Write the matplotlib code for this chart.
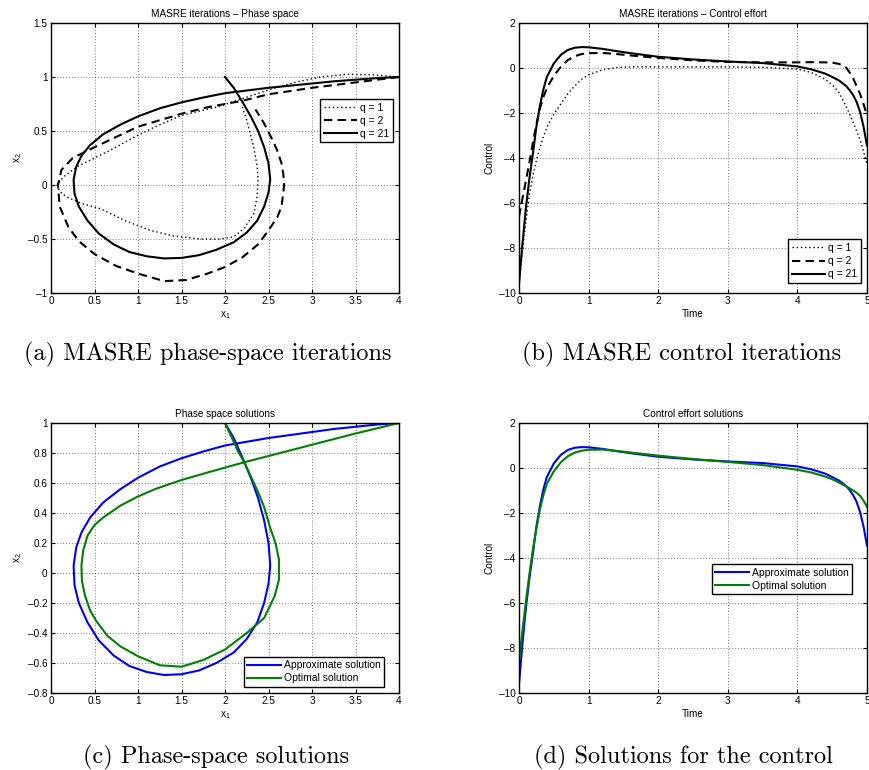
import matplotlib
matplotlib.use("Agg")
import matplotlib.pyplot as plt
from matplotlib.ticker import FixedLocator, FixedFormatter

plt.rcParams["font.family"] = ["Liberation Sans", "DejaVu Sans"]
plt.rcParams["mathtext.fontset"] = "custom"
plt.rcParams["mathtext.rm"] = "Liberation Sans"
plt.rcParams["mathtext.it"] = "Liberation Sans"
plt.rcParams["mathtext.default"] = "regular"

# ---- phase space data (x1, x2) ----
# q = 1 iteration
x1_q1 = [4.0, 3.7, 3.4, 3.1, 2.8, 2.5, 2.2, 1.9, 1.5, 1.2, 0.95, 0.7, 0.5, 0.3, 0.15, 0.07,
         0.1, 0.18, 0.35, 0.57, 0.85, 1.14, 1.4, 1.71, 1.95, 2.1, 2.22, 2.33, 2.37, 2.38,
         2.37, 2.33, 2.25, 2.2]
x2_q1 = [1.0, 1.02, 1.025, 1.0, 0.95, 0.88, 0.8, 0.72, 0.645, 0.54, 0.44, 0.33, 0.25, 0.17,
         0.08, 0.0, -0.06, -0.11, -0.17, -0.22, -0.33, -0.42, -0.47, -0.5, -0.5, -0.48,
         -0.4, -0.27, -0.1, 0.05, 0.17, 0.35, 0.6, 0.72]
# q = 2 iteration
x1_q2 = [4.0, 3.5, 3.0, 2.5, 2.2, 1.8, 1.5, 1.0, 0.5, 0.25, 0.12, 0.08, 0.1, 0.2, 0.32,
         0.5, 0.75, 1.0, 1.3, 1.55, 1.8, 2.0, 2.2, 2.38, 2.5, 2.6, 2.65, 2.68, 2.67, 2.65,
         2.6, 2.55, 2.45, 2.35]
x2_q2 = [1.0, 0.95, 0.9, 0.84, 0.78, 0.72, 0.66, 0.54, 0.35, 0.25, 0.14, 0.0, -0.2, -0.39,
         -0.52, -0.64, -0.75, -0.82, -0.89, -0.88, -0.82, -0.76, -0.67, -0.55, -0.42, -0.3,
         -0.2, 0.0, 0.1, 0.2, 0.32, 0.41, 0.57, 0.7]
# q = 21 iteration (approximate solution)
x1_q21 = [4.0, 3.75, 3.5, 3.25, 3.0, 2.75, 2.5, 2.25, 2.0, 1.75, 1.5, 1.25, 1.0, 0.8, 0.6,
          0.45, 0.35, 0.29, 0.26, 0.27, 0.32, 0.42, 0.55, 0.72, 0.9, 1.1, 1.3, 1.5, 1.7,
          1.9, 2.1, 2.25, 2.37, 2.45, 2.5, 2.52, 2.5, 2.45, 2.38, 2.3, 2.2, 2.1, 2.0]
x2_q21 = [1.0, 0.99, 0.975, 0.96, 0.94, 0.92, 0.9, 0.875, 0.85, 0.81, 0.765, 0.71, 0.635,
          0.56, 0.47, 0.37, 0.27, 0.17, 0.05, -0.08, -0.2, -0.33, -0.45, -0.55, -0.62,
          -0.66, -0.68, -0.675, -0.65, -0.6, -0.53, -0.44, -0.33, -0.2, -0.07, 0.05, 0.2,
          0.35, 0.5, 0.63, 0.77, 0.9, 1.0]
# optimal solution
x1_opt = [4.0, 3.5, 3.0, 2.5, 2.2, 1.8, 1.5, 1.2, 1.0, 0.8, 0.6, 0.5, 0.42, 0.37, 0.35,
          0.355, 0.39, 0.45, 0.52, 0.65, 0.8, 1.0, 1.25, 1.5, 1.75, 2.0, 2.25, 2.45, 2.57,
          2.62, 2.62, 2.58, 2.52, 2.45, 2.38, 2.3, 2.22, 2.15, 2.08, 2.0]
x2_opt = [1.0, 0.93, 0.855, 0.78, 0.735, 0.67, 0.62, 0.56, 0.51, 0.45, 0.37, 0.32, 0.25,
          0.15, 0.05, -0.05, -0.15, -0.25, -0.32, -0.42, -0.49, -0.555, -0.615, -0.625,
          -0.58, -0.51, -0.4, -0.3, -0.155, -0.045, 0.09, 0.2, 0.3, 0.44, 0.54, 0.64, 0.74,
          0.81, 0.9, 1.0]

# ---- control data ----
t = [0.0, 0.05, 0.1, 0.15, 0.2, 0.25, 0.3, 0.35, 0.4, 0.5, 0.6, 0.7, 0.8, 0.9, 1.0, 1.2,
     1.4, 1.6, 1.8, 2.0, 2.5, 3.0, 3.5, 4.0, 4.2, 4.4, 4.5, 4.6, 4.7, 4.75, 4.8, 4.85, 4.9,
     4.95, 5.0]
u_q1 = [-9.5, -8.1, -6.8, -5.6, -4.8, -4.1, -3.55, -3.05, -2.65, -2.05, -1.6, -1.15, -0.8,
        -0.5, -0.3, -0.08, 0.02, 0.05, 0.05, 0.05, 0.05, 0.05, 0.03, -0.05, -0.2, -0.5,
        -0.75, -1.1, -1.7, -2.05, -2.4, -2.8, -3.2, -3.7, -4.3]
u_q2 = [-6.6, -5.8, -5.0, -4.2, -3.3, -2.5, -1.8, -1.3, -0.9, -0.35, 0.05, 0.35, 0.52, 0.62,
        0.66, 0.67, 0.62, 0.56, 0.5, 0.45, 0.34, 0.27, 0.25, 0.25, 0.26, 0.25, 0.24, 0.18,
        0.02, -0.2, -0.45, -0.8, -1.15, -1.6, -2.1]
u_q21 = [-9.6, -7.8, -6.2, -4.9, -3.8, -2.6, -1.7, -0.95, -0.4, 0.2, 0.58, 0.8, 0.9, 0.93,
         0.92, 0.85, 0.75, 0.66, 0.58, 0.5, 0.38, 0.29, 0.22, 0.07, -0.06, -0.25, -0.4,
         -0.56, -0.8, -0.98, -1.2, -1.5, -1.95, -2.6, -3.45]
u_opt = [-8.6, -7.2, -5.9, -4.7, -3.6, -2.7, -1.85, -1.2, -0.7, -0.15, 0.25, 0.52, 0.68,
         0.77, 0.81, 0.82, 0.76, 0.69, 0.62, 0.55, 0.4, 0.27, 0.13, -0.08, -0.2, -0.38,
         -0.5, -0.65, -0.82, -0.9, -1.0, -1.1, -1.23, -1.45, -1.72]

# ---- axis ticks ----
phase_x_ticks = [0, 0.5, 1, 1.5, 2, 2.5, 3, 3.5, 4]
phase_a_y_ticks = [-1, -0.5, 0, 0.5, 1, 1.5]
phase_c_y_ticks = [-0.8, -0.6, -0.4, -0.2, 0, 0.2, 0.4, 0.6, 0.8, 1]
time_ticks = [0, 1, 2, 3, 4, 5]
control_ticks = [-10, -8, -6, -4, -2, 0, 2]

captions = ["(a) MASRE phase-space iterations", "(b) MASRE control iterations",
            "(c) Phase-space solutions", "(d) Solutions for the control"]

FS = 7.2


def fmt(v):
    return ("%g" % v).replace("-", "\u2013")


def style_axis(ax, xticks, yticks, title, xlabel, ylabel):
    ax.xaxis.set_major_locator(FixedLocator(xticks))
    ax.xaxis.set_major_formatter(FixedFormatter([fmt(v) for v in xticks]))
    ax.yaxis.set_major_locator(FixedLocator(yticks))
    ax.yaxis.set_major_formatter(FixedFormatter([fmt(v) for v in yticks]))
    ax.set_xlim(xticks[0], xticks[-1])
    ax.set_ylim(yticks[0], yticks[-1])
    ax.tick_params(direction="in", top=True, right=True, length=3, width=0.8,
                   labelsize=FS, pad=2.5)
    ax.grid(True, linestyle=(0, (1, 2.5)), color="black", linewidth=0.6, alpha=0.7)
    for s in ax.spines.values():
        s.set_linewidth(1.0)
    ax.set_title(title, fontsize=FS, pad=4)
    ax.set_xlabel(xlabel, fontsize=FS, labelpad=2)
    ax.set_ylabel(ylabel, fontsize=FS, labelpad=3)


def add_legend(ax, loc, anchor):
    leg = ax.legend(loc=loc, bbox_to_anchor=anchor, fontsize=FS + 0.3, fancybox=False,
                    framealpha=1, edgecolor="black", handlelength=3.2, handletextpad=0.3,
                    borderpad=0.35, labelspacing=0.3, borderaxespad=0)
    leg.get_frame().set_linewidth(1.0)


fig = plt.figure(figsize=(8.69, 7.70), dpi=100)
W, H = 348 / 869, 270 / 770
ax_a = fig.add_axes([51 / 869, 1 - 293 / 770, W, H])
ax_b = fig.add_axes([519 / 869, 1 - 293 / 770, W, H])
ax_c = fig.add_axes([51 / 869, 1 - 693 / 770, W, H])
ax_d = fig.add_axes([519 / 869, 1 - 693 / 770, W, H])

# (a)
ax_a.plot(x1_q1, x2_q1, color="black", linestyle=(0, (1, 2)), lw=1.0, label="q = 1")
ax_a.plot(x1_q2, x2_q2, color="black", linestyle=(0, (4, 2.5)), lw=1.5, label="q = 2")
ax_a.plot(x1_q21, x2_q21, color="black", lw=1.5, label="q = 21")
style_axis(ax_a, phase_x_ticks, phase_a_y_ticks, "MASRE iterations \u2013 Phase space",
           "x$_1$", "x$_2$")
add_legend(ax_a, "upper right", (0.983, 0.719))

# (b)
ax_b.plot(t, u_q1, color="black", linestyle=(0, (1, 2)), lw=1.0, label="q = 1")
ax_b.plot(t, u_q2, color="black", linestyle=(0, (4, 2.5)), lw=1.5, label="q = 2")
ax_b.plot(t, u_q21, color="black", lw=1.5, label="q = 21")
style_axis(ax_b, time_ticks, control_ticks, "MASRE iterations \u2013 Control effort",
           "Time", "Control")
add_legend(ax_b, "lower right", (0.983, 0.037))

# (c)
ax_c.plot(x1_q21, x2_q21, color="#0000ff", lw=1.5, label="Approximate solution")
ax_c.plot(x1_opt, x2_opt, color="#008000", lw=1.5, label="Optimal solution")
style_axis(ax_c, phase_x_ticks, phase_c_y_ticks, "Phase space solutions", "x$_1$", "x$_2$")
add_legend(ax_c, "lower right", (0.957, 0.022))

# (d)
ax_d.plot(t, u_q21, color="#0000ff", lw=1.5, label="Approximate solution")
ax_d.plot(t, u_opt, color="#008000", lw=1.5, label="Optimal solution")
style_axis(ax_d, time_ticks, control_ticks, "Control effort solutions", "Time", "Control")
add_legend(ax_d, "upper right", (0.957, 0.478))

# sub-figure captions (centre x, baseline y in pixels)
cap_pos = [(208, 360), (682, 360), (216, 763), (683, 763)]
for text, (cx, cy) in zip(captions, cap_pos):
    fig.text(cx / 869, 1 - cy / 770, text, fontsize=17.5, family="cmr10",
             ha="center", va="baseline")

fig.savefig("out.png", dpi=100)
